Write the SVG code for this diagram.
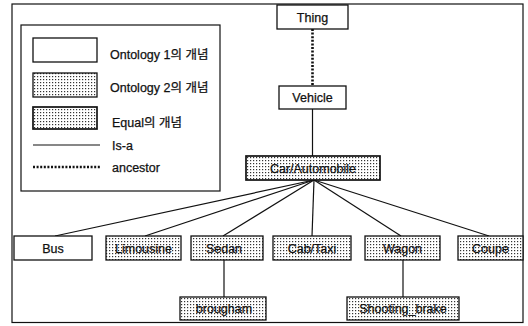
<svg xmlns="http://www.w3.org/2000/svg" width="528" height="326" viewBox="0 0 528 326">
<defs>
<pattern id="dots" width="3" height="3" patternUnits="userSpaceOnUse">
<rect width="3" height="3" fill="#ffffff"/>
<rect x="1" y="1" width="1.2" height="1.2" fill="#333"/>
</pattern>
<style>
.n1{fill:#fff;stroke:#111;stroke-width:1.3}
.n2{fill:url(#dots);stroke:#111;stroke-width:1.3}
.eq{fill:url(#dots);stroke:#111;stroke-width:1.7}
.t{font-family:"Liberation Sans","Noto Sans CJK KR",sans-serif;font-size:12.5px;fill:#111;stroke:#111;stroke-width:0.25;text-anchor:middle}
.lt{font-family:"Liberation Sans","Noto Sans CJK KR",sans-serif;font-size:12.5px;fill:#111;stroke:#111;stroke-width:0.25}
.isa{stroke:#111;stroke-width:1.2;fill:none}
.anc{stroke:#111;stroke-width:2.6;stroke-dasharray:2 1.6;fill:none}
</style>
</defs>
<rect x="0" y="0" width="528" height="326" fill="#fff"/>
<rect x="12" y="4" width="511" height="318.5" fill="none" stroke="#111" stroke-width="1.2"/>
<g id="legend">
<rect x="21" y="25" width="199" height="166" fill="none" stroke="#111" stroke-width="1.2"/>
<rect class="n1" x="33" y="38" width="64" height="24"/>
<text class="lt" x="110" y="59">Ontology 1의 개념</text>
<rect class="n2" x="33" y="73" width="64" height="24"/>
<text class="lt" x="110" y="92">Ontology 2의 개념</text>
<rect class="eq" x="33" y="107" width="64" height="22"/>
<text class="lt" x="112" y="127">Equal의 개념</text>
<line class="isa" x1="33" y1="145" x2="100" y2="145"/>
<text class="lt" x="112" y="150">Is-a</text>
<line class="anc" x1="33" y1="167" x2="100" y2="167"/>
<text class="lt" x="112" y="172">ancestor</text>
</g>
<g id="connectors">
<line class="anc" x1="312.5" y1="29" x2="312.5" y2="86"/>
<line class="isa" x1="312.5" y1="109" x2="312.5" y2="156"/>
<line class="isa" x1="314" y1="180" x2="55" y2="236"/>
<line class="isa" x1="314" y1="180" x2="145" y2="236"/>
<line class="isa" x1="314" y1="180" x2="223" y2="236"/>
<line class="isa" x1="314" y1="180" x2="312" y2="236"/>
<line class="isa" x1="314" y1="180" x2="401" y2="236"/>
<line class="isa" x1="314" y1="180" x2="489" y2="236"/>
<line class="isa" x1="224" y1="260" x2="224" y2="297"/>
<line class="isa" x1="403" y1="260" x2="403" y2="297"/>
</g>
<g id="thing">
<rect class="n1" x="277" y="5" width="71" height="24"/>
<text class="t" x="312.5" y="21.5">Thing</text>
</g>
<g id="vehicle">
<rect class="n1" x="279" y="86" width="67" height="23"/>
<text class="t" x="312.5" y="102">Vehicle</text>
</g>
<g id="car">
<rect class="eq" x="246" y="156" width="134" height="24"/>
<text class="t" x="313" y="172.5">Car/Automobile</text>
</g>
<g id="bus">
<rect class="n1" x="14" y="236" width="78" height="24"/>
<text class="t" x="53" y="252.5">Bus</text>
</g>
<g id="limousine">
<rect class="n2" x="106" y="236" width="75" height="24"/>
<text class="t" x="143.5" y="252.5">Limousine</text>
</g>
<g id="sedan">
<rect class="n2" x="191" y="236" width="72" height="24"/>
<text class="t" x="224" y="252.5">Sedan</text>
</g>
<g id="cabtaxi">
<rect class="n2" x="273" y="236" width="78" height="24"/>
<text class="t" x="312" y="252.5">Cab/Taxi</text>
</g>
<g id="wagon">
<rect class="n2" x="365" y="236" width="75" height="24"/>
<text class="t" x="402.5" y="252.5">Wagon</text>
</g>
<g id="coupe">
<rect class="n2" x="458" y="236" width="65" height="24"/>
<text class="t" x="490.5" y="252.5">Coupe</text>
</g>
<g id="brougham">
<rect class="n2" x="180" y="297" width="86" height="23"/>
<text class="t" x="224" y="313">brougham</text>
</g>
<g id="shooting_brake">
<rect class="n2" x="347" y="297" width="112" height="23"/>
<text class="t" x="403" y="313">Shooting_brake</text>
</g>
</svg>
